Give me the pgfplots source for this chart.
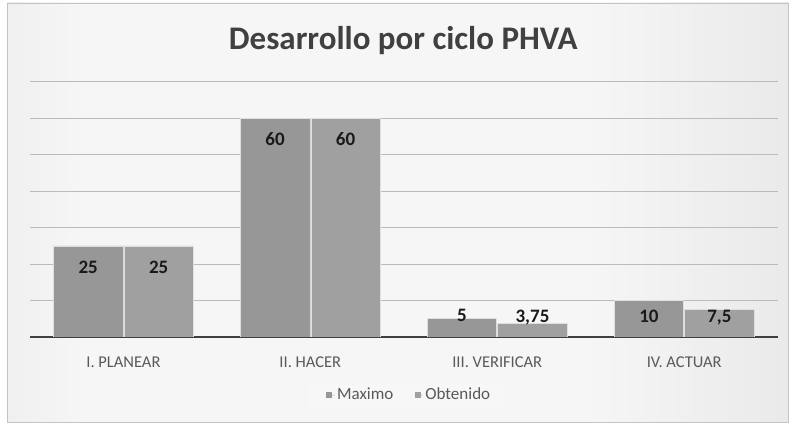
\documentclass[border=0pt]{standalone}
\usepackage{pgfplots}
\pgfplotsset{compat=1.18}
\usepackage{pgfplotstable}
\usepackage{fontspec}
\setmainfont{Carlito}

\definecolor{bgL}{HTML}{D0D0D0}
\definecolor{bgM}{HTML}{F6F6F6}
\definecolor{bgR}{HTML}{D2D2D2}
\definecolor{framecol}{HTML}{C4C4C4}
\definecolor{gridcol}{HTML}{BBBBBB}
\definecolor{axiscol}{HTML}{404040}
\definecolor{titlecol}{HTML}{404040}
\definecolor{tickcol}{HTML}{595959}
\definecolor{maxcol}{HTML}{979797}
\definecolor{obtcol}{HTML}{A0A0A0}

\pgfdeclarehorizontalshading{bgshade}{100bp}{color(0bp)=(bgL); color(30bp)=(bgM); color(62bp)=(bgM); color(100bp)=(bgR)}

\pgfplotstableread{
x y off
0 25 -28
1 60 -27.5
2 5 -3
3 10 -22.5
}\maximo
\pgfplotstableread{
x y off
0 25 -28
1 60 -27.5
2 3.75 1
3 7.5 -12.5
}\obtenido

\begin{document}
\begin{tikzpicture}[x=1pt,y=1pt]
\fill[white] (0,0) rectangle (789,425);
\shade[shading=bgshade] (7,2) rectangle (789,422);
\draw[framecol, line width=0.8pt] (7,2) rectangle (789,422);
\node[anchor=base, font=\fontsize{33}{36}\selectfont\bfseries, text=titlecol] at (403.5,375) {Desarrollo por ciclo PHVA};
\fill[white, opacity=0.2] (308,12) rectangle (505,44);
\begin{axis}[
    at={(30pt,88pt)}, anchor=south west,
    scale only axis, width=748pt, height=255pt,
    ymin=0, ymax=70, ytick={0,10,...,70}, yticklabels={},
    xmin=-0.5, xmax=3.5, xtick=data,
    xticklabels={I. PLANEAR, II. HACER, III. VERIFICAR, IV. ACTUAR},
    xticklabel style={anchor=base, yshift=-26.4pt, font=\fontsize{16.5}{18}\selectfont, text=tickcol},
    axis line style={draw=none},
    tick style={draw=none},
    ymajorgrids,
    major grid style={gridcol, line width=1pt},
    extra y ticks={0}, extra y tick labels={},
    extra y tick style={grid=major, major grid style={axiscol, line width=1.6pt}},
    ybar=1pt, bar width=69.5pt,
    nodes near coords,
    point meta=y,
    visualization depends on={\thisrow{off} \as \off},
    every node near coord/.append style={anchor=base, yshift=\off pt,
        font=\fontsize{19}{21}\selectfont\bfseries, text=black!90,
        /pgf/number format/fixed, /pgf/number format/precision=2,
        /pgf/number format/use comma, /pgf/number format/assume math mode=true},
    legend style={at={(0.507,-0.2275)}, anchor=center, draw=none, fill=none,
        legend columns=2, font=\fontsize{17}{19}\selectfont, text=tickcol,
        /tikz/every even column/.append style={column sep=19pt}},
    legend image code/.code={\path (0pt,0pt) -- (8.5pt,0pt);
        \fill[#1,draw=none] (0pt,-3pt) rectangle (6pt,3pt);},
]
\addplot[fill=maxcol, draw=white!75!gray, line width=0.6pt] table[x=x,y=y] {\maximo};
\addlegendentry{Maximo}
\addplot[fill=obtcol, draw=white!75!gray, line width=0.6pt] table[x=x,y=y] {\obtenido};
\addlegendentry{Obtenido}
\end{axis}
\end{tikzpicture}
\end{document}
